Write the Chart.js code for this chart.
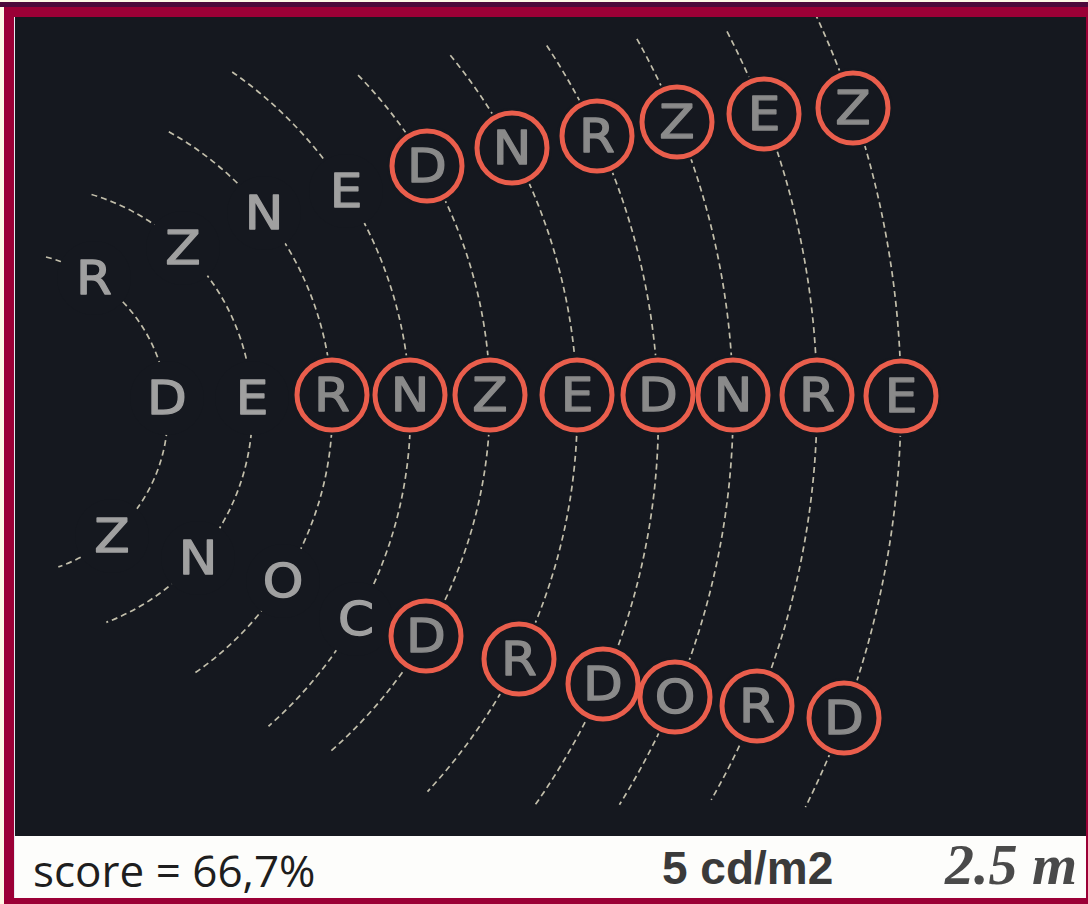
<!DOCTYPE html>
<html>
<head>
<meta charset="utf-8">
<script src="https://cdn.jsdelivr.net/npm/chart.js@4/dist/chart.umd.min.js"></script>
<style>
    html, body { margin: 0; padding: 0; }
    body {
        width: 1088px;
        height: 904px;
        position: relative;
        overflow: hidden;
        background: #fdf9e6;
    }
    .band-top { position: absolute; left: 0; top: 2px; width: 1088px; height: 5px; background: #4c0a3a; }
    .band-top2 { position: absolute; left: 4px; top: 7px; width: 1084px; height: 10px; background: #9b0036; }
    .band-left { position: absolute; left: 4px; top: 7px; width: 10px; height: 897px; background: #9b0036; }
    .line-left { position: absolute; left: 14px; top: 17px; width: 1px; height: 881px; background: #e8e8f0; }
    .band-right { position: absolute; left: 1086px; top: 7px; width: 2px; height: 897px; background: #9b0036; }
    .band-bottom { position: absolute; left: 4px; top: 898px; width: 1084px; height: 6px; background: #9b0036; }
    #chart-box {
        position: absolute;
        left: 15px;
        top: 17px;
        width: 1071px;
        height: 819px;
        background: #15181f;
    }
    #strip {
        position: absolute;
        left: 15px;
        top: 836px;
        width: 1071px;
        height: 62px;
        background: #fdfdfb;
    }
    #strip span { position: absolute; white-space: nowrap; }
    .score { left: 18px; top: 4px; font: 44px "Open Sans", sans-serif; color: #1e1e1e; }
    .lum { left: 647px; top: 5px; font: bold 46px "Liberation Sans", Arial, sans-serif; color: #3a3a3a; }
    .dist { left: 930px; top: -5px; font: bold italic 58px "Liberation Serif", "Times New Roman", serif; color: #4a4a4a; }
</style>
</head>
<body>
<div class="band-top"></div>
<div class="band-top2"></div>
<div class="band-left"></div>
<div class="band-right"></div>
<div class="band-bottom"></div>
<div class="line-left"></div>
<div id="chart-box"><canvas id="letter-chart"></canvas></div>
<div id="strip">
    <span class="score">score = 66,7%</span>
    <span class="lum">5 cd/m2</span>
    <span class="dist">2.5 m</span>
</div>
<script>
// letters of the three arms, one per arc (arc 0 = innermost)
const upperLetters = ['R', 'Z', 'N', 'E', 'D', 'N', 'R', 'Z', 'E', 'Z'];
const upperX = [94, 183, 264, 346, 427, 512, 597, 677, 764, 853];
const upperY = [278, 248, 213, 191, 166, 148, 136, 122, 114, 108];
const upperRead = [0, 0, 0, 0, 1, 1, 1, 1, 1, 1];

const middleLetters = ['D', 'E', 'R', 'N', 'Z', 'E', 'D', 'N', 'R', 'E'];
const middleX = [167, 252, 332, 410, 490, 577, 658, 733, 817, 901];
const middleY = [398, 398, 395, 395, 395, 395, 395, 395, 395, 396];
const middleRead = [0, 0, 1, 1, 1, 1, 1, 1, 1, 1];

const lowerLetters = ['Z', 'N', 'O', 'C', 'D', 'R', 'D', 'O', 'R', 'D'];
const lowerX = [112, 198, 283, 356, 426, 519, 603, 675, 757, 844];
const lowerY = [536, 558, 581, 619, 636, 659, 684, 697, 706, 718];
const lowerRead = [0, 0, 0, 0, 1, 1, 1, 1, 1, 1];

// where each dashed arc starts (top) and ends (bottom)
const arcTopX = [47, 95, 167, 235, 353, 447, 543, 635, 726, 805];
const arcTopY = [253, 183, 135, 68, 80, 58, 48, 40, 32, 18];
const arcEndX = [57, 110, 192, 263, 337, 428, 530, 623, 715, 807];
const arcEndY = [563, 632, 670, 720, 757, 792, 803, 807, 802, 808];

const BG = '#15181f';

function toPoints(xs, ys, letters, read) {
    return xs.map((x, i) => ({ x: x, y: ys[i], letter: letters[i], read: read[i] }));
}
const allLetters = [
    ...toPoints(upperX, upperY, upperLetters, upperRead),
    ...toPoints(middleX, middleY, middleLetters, middleRead),
    ...toPoints(lowerX, lowerY, lowerLetters, lowerRead)
];
const readLetters = allLetters.filter(p => p.read);

// circle through three pixel points
function circleThrough(a, b, c) {
    const d = 2 * (a.x * (b.y - c.y) + b.x * (c.y - a.y) + c.x * (a.y - b.y));
    const a2 = a.x * a.x + a.y * a.y, b2 = b.x * b.x + b.y * b.y, c2 = c.x * c.x + c.y * c.y;
    const cx = (a2 * (b.y - c.y) + b2 * (c.y - a.y) + c2 * (a.y - b.y)) / d;
    const cy = (a2 * (c.x - b.x) + b2 * (a.x - c.x) + c2 * (b.x - a.x)) / d;
    return { cx, cy, r: Math.hypot(a.x - cx, a.y - cy) };
}

const arcsPlugin = {
    id: 'arcs',
    beforeDatasetsDraw(chart) {
        const { ctx, scales: { x, y } } = chart;
        const px = (vx, vy) => ({ x: x.getPixelForValue(vx), y: y.getPixelForValue(vy) });
        ctx.save();
        ctx.strokeStyle = 'rgba(225, 220, 195, 0.85)';
        ctx.lineWidth = 1.7;
        ctx.setLineDash([6, 4]);
        for (let i = 0; i < upperX.length; i++) {
            const c = circleThrough(px(upperX[i], upperY[i]), px(middleX[i], middleY[i]), px(lowerX[i], lowerY[i]));
            const t = px(arcTopX[i], arcTopY[i]);
            const e = px(arcEndX[i], arcEndY[i]);
            const a1 = Math.atan2(t.y - c.cy, t.x - c.cx);
            const a2 = Math.atan2(e.y - c.cy, e.x - c.cx);
            ctx.beginPath();
            ctx.arc(c.cx, c.cy, c.r, a1, a2, false);
            ctx.stroke();
        }
        // clear the arcs round every letter
        ctx.setLineDash([]);
        ctx.fillStyle = BG;
        allLetters.forEach(p => {
            const q = px(p.x, p.y);
            ctx.beginPath();
            ctx.arc(q.x, q.y, p.read ? 40 : 37, 0, Math.PI * 2);
            ctx.fill();
        });
        ctx.restore();
    }
};

const lettersPlugin = {
    id: 'letters',
    afterDatasetsDraw(chart) {
        const { ctx } = chart;
        const meta = chart.getDatasetMeta(1);
        ctx.save();
        ctx.font = '47px "DejaVu Sans", sans-serif';
        ctx.textAlign = 'center';
        ctx.textBaseline = 'middle';
        ctx.lineWidth = 1.3;
        ctx.lineJoin = 'round';
        meta.data.forEach((el, i) => {
            const p = allLetters[i];
            ctx.fillStyle = p.read ? '#8a8a8a' : '#a0a0a0';
            ctx.strokeStyle = ctx.fillStyle;
            ctx.save();
            ctx.translate(el.x, el.y + 4);
            ctx.scale(1.1, 1);
            ctx.fillText(p.letter, 0, 0);
            ctx.strokeText(p.letter, 0, 0);
            ctx.restore();
        });
        ctx.restore();
    }
};

new Chart(document.getElementById('letter-chart'), {
    type: 'scatter',
    data: {
        datasets: [
            {
                label: 'read correctly',
                data: readLetters,
                pointStyle: 'circle',
                pointRadius: 35,
                pointHoverRadius: 35,
                borderWidth: 5,
                pointBorderColor: '#ea5e4c',
                pointBackgroundColor: 'rgba(0,0,0,0)'
            },
            {
                label: 'letters',
                data: allLetters,
                pointRadius: 0,
                pointHoverRadius: 0
            }
        ]
    },
    options: {
        responsive: true,
        maintainAspectRatio: false,
        animation: false,
        layout: { padding: 0, autoPadding: false },
        events: [],
        scales: {
            x: { type: 'linear', min: 15, max: 1086, display: false },
            y: { type: 'linear', min: 17, max: 836, reverse: true, display: false }
        },
        plugins: {
            legend: { display: false },
            tooltip: { enabled: false }
        }
    },
    plugins: [arcsPlugin, lettersPlugin]
});
</script>
</body>
</html>
